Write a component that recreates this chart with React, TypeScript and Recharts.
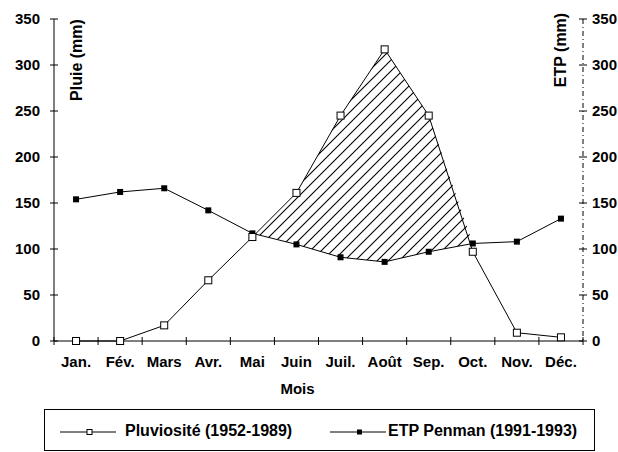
import React from 'react';
import { ComposedChart, Line, Area, XAxis, YAxis } from 'recharts';

const months = ['Jan.', 'Fév.', 'Mars', 'Avr.', 'Mai', 'Juin', 'Juil.', 'Août', 'Sep.', 'Oct.', 'Nov.', 'Déc.'];
const pluie = [0, 0, 17, 66, 113, 161, 245, 317, 245, 97, 9, 4];
const etp = [154, 162, 166, 142, 117, 105, 91, 86, 97, 106, 108, 133];
const yTicks = [0, 50, 100, 150, 200, 250, 300, 350];
// months where the rain excess (hatched) is drawn
const excessFrom = 4;
const excessTo = 9;

const FONT = '"Liberation Sans", Arial, sans-serif';

const data = months.map((m, i) => ({
  mois: m,
  pluie: pluie[i],
  etp: etp[i],
  excess: i >= excessFrom && i <= excessTo ? [etp[i], Math.max(pluie[i], etp[i])] : null,
}));

const OpenSquare = (props: any) => {
  const { cx, cy, index } = props;
  if (cx == null || cy == null) return <g key={'p' + index} />;
  return <rect key={'p' + index} x={cx - 3.5} y={cy - 3.5} width={7} height={7} fill="#fff" stroke="#000" strokeWidth={1} />;
};

const FilledSquare = (props: any) => {
  const { cx, cy, index } = props;
  if (cx == null || cy == null) return <g key={'e' + index} />;
  return <rect key={'e' + index} x={cx - 3} y={cy - 3} width={6} height={6} fill="#000" />;
};

// x ticks: label at band centre, cross mark at band edges
const XTick = (props: any) => {
  const { x, y, payload, index, visibleTicksCount } = props;
  const axisY = y - 15;
  const off = payload.offset || 0;
  return (
    <g>
      <line x1={x - off} x2={x - off} y1={axisY - 4} y2={axisY + 4} stroke="#000" />
      {index === visibleTicksCount - 1 && (
        <line x1={x + off} x2={x + off} y1={axisY - 4} y2={axisY + 4} stroke="#000" />
      )}
      <text x={x} y={y} dy="0.71em" textAnchor="middle" fontSize={15} fontWeight="bold" fontFamily={FONT} fill="#000">
        {payload.value}
      </text>
    </g>
  );
};

const LeftTick = (props: any) => {
  const { x, y, payload } = props;
  const axisX = x + 14;
  return (
    <g>
      <line x1={axisX - 4} x2={axisX + 4} y1={y} y2={y} stroke="#000" />
      <text x={x} y={y} dy="0.35em" textAnchor="end" fontSize={15} fontWeight="bold" fontFamily={FONT} fill="#000">
        {payload.value}
      </text>
    </g>
  );
};

const RightTick = (props: any) => {
  const { x, y, payload } = props;
  const axisX = x - 9;
  return (
    <g>
      <line x1={axisX - 4} x2={axisX + 4} y1={y} y2={y} stroke="#000" />
      <text x={x} y={y} dy="0.35em" textAnchor="start" fontSize={15} fontWeight="bold" fontFamily={FONT} fill="#000">
        {payload.value}
      </text>
    </g>
  );
};

const PluieTitle = (props: any) => {
  const { x, y, width } = props.viewBox;
  const cx = x + width + 22;
  const cy = y + 41;
  return (
    <text x={cx} y={cy} transform={`rotate(-90 ${cx} ${cy})`} textAnchor="middle" dy="0.35em" fontSize={16} fontWeight="bold" fontFamily={FONT} fill="#000">
      Pluie (mm)
    </text>
  );
};

const EtpTitle = (props: any) => {
  const { x, y } = props.viewBox;
  const cx = x - 23;
  const cy = y + 31;
  return (
    <text x={cx} y={cy} transform={`rotate(-90 ${cx} ${cy})`} textAnchor="middle" dy="0.35em" fontSize={16} fontWeight="bold" fontFamily={FONT} fill="#000">
      ETP (mm)
    </text>
  );
};

const MoisTitle = (props: any) => {
  const { x, y, width, height } = props.viewBox;
  return (
    <text x={x + width / 2 - 21} y={y + height - 3} textAnchor="middle" fontSize={15} fontWeight="bold" fontFamily={FONT} fill="#000">
      Mois
    </text>
  );
};

const legendText: React.CSSProperties = {
  position: 'absolute',
  top: 12,
  fontFamily: FONT,
  fontWeight: 'bold',
  fontSize: 16,
  color: '#000',
  whiteSpace: 'nowrap',
};

export default function App() {
  return (
    <div style={{ position: 'absolute', left: 0, top: 0, width: 618, height: 452, background: '#fff', overflow: 'hidden' }}>
      <ComposedChart width={618} height={452} data={data} margin={{ top: 19, right: 0, left: 0, bottom: 55 }}>
        <defs>
          <pattern id="hatch" patternUnits="userSpaceOnUse" width={11} height={11}>
            <path d="M0,11 L11,0 M-2,2 L2,-2 M9,13 L13,9" stroke="#000" strokeWidth={1.1} />
          </pattern>
        </defs>
        <XAxis
          dataKey="mois"
          scale="band"
          height={56}
          axisLine={{ stroke: '#000' }}
          tickLine={false}
          tickSize={5}
          tickMargin={10}
          tick={<XTick />}
          interval={0}
          label={<MoisTitle />}
        />
        <YAxis
          yAxisId="left"
          width={54}
          domain={[0, 350]}
          ticks={yTicks}
          axisLine={{ stroke: '#000' }}
          tickLine={false}
          tickSize={5}
          tickMargin={9}
          tick={<LeftTick />}
          label={<PluieTitle />}
        />
        <YAxis
          yAxisId="right"
          orientation="right"
          width={35}
          domain={[0, 350]}
          ticks={yTicks}
          axisLine={{ stroke: '#000', strokeDasharray: '5 3 1 3' }}
          tickLine={false}
          tickSize={4}
          tickMargin={5}
          tick={<RightTick />}
          label={<EtpTitle />}
        />
        <Area
          yAxisId="left"
          dataKey="excess"
          type="linear"
          stroke="none"
          fill="url(#hatch)"
          fillOpacity={1}
          isAnimationActive={false}
          activeDot={false}
        />
        <Line
          yAxisId="right"
          dataKey="etp"
          type="linear"
          stroke="#000"
          strokeWidth={1}
          dot={<FilledSquare />}
          activeDot={false}
          isAnimationActive={false}
        />
        <Line
          yAxisId="left"
          dataKey="pluie"
          type="linear"
          stroke="#000"
          strokeWidth={1}
          dot={<OpenSquare />}
          activeDot={false}
          isAnimationActive={false}
        />
      </ComposedChart>
      <div
        style={{
          position: 'absolute',
          left: 44,
          top: 409,
          width: 551,
          height: 42,
          border: '1px solid #000',
          boxSizing: 'border-box',
        }}
      >
        <svg style={{ position: 'absolute', left: 15, top: 17 }} width={56} height={10}>
          <line x1={0} x2={56} y1={5} y2={5} stroke="#000" />
          <rect x={27} y={2.5} width={5} height={5} fill="#fff" stroke="#000" />
        </svg>
        <div style={{ ...legendText, left: 80 }}>Pluviosité (1952-1989)</div>
        <svg style={{ position: 'absolute', left: 285, top: 17 }} width={56} height={10}>
          <line x1={0} x2={56} y1={5} y2={5} stroke="#000" />
          <rect x={27} y={2.5} width={5} height={5} fill="#000" />
        </svg>
        <div style={{ ...legendText, left: 343 }}>ETP Penman (1991-1993)</div>
      </div>
    </div>
  );
}
